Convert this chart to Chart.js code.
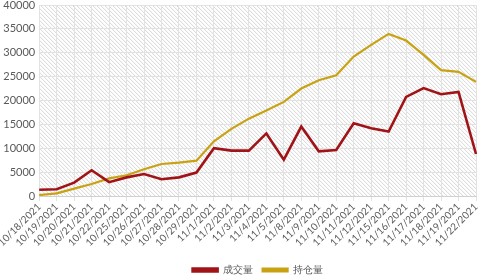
<!DOCTYPE html>
<html>
<head>
<meta charset="utf-8">
<script src="https://cdn.jsdelivr.net/npm/chart.js@4/dist/chart.umd.min.js"></script>
<style>
  html, body { margin: 0; padding: 0; background: #fff; }
  #wrap { width: 498px; height: 280px; position: relative; }
</style>
</head>
<body>
<div id="wrap"><canvas id="chart-main"></canvas></div>
<script>
const dates = [
  '10/18/2021', '10/19/2021', '10/20/2021', '10/21/2021', '10/22/2021', '10/25/2021',
  '10/26/2021', '10/27/2021', '10/28/2021', '10/29/2021', '11/1/2021', '11/2/2021',
  '11/3/2021', '11/4/2021', '11/5/2021', '11/8/2021', '11/9/2021', '11/10/2021',
  '11/11/2021', '11/12/2021', '11/15/2021', '11/16/2021', '11/17/2021', '11/18/2021',
  '11/19/2021', '11/22/2021',
];
const volume = [
  1300, 1400, 2800, 5400, 2900, 3900, 4600, 3500, 3900, 4900, 10000, 9500, 9500,
  13100, 7600, 14550, 9350, 9650, 15250, 14200, 13500, 20750, 22600, 21300, 21800, 8800,
];
const openInterest = [
  200, 550, 1550, 2500, 3700, 4350, 5600, 6700, 7000, 7400, 11450, 14050, 16200,
  17900, 19700, 22500, 24250, 25300, 29200, 31650, 33950, 32550, 29550, 26350, 26000, 23900,
];
const seriesNames = ['成交量', '持仓量'];

const textColor = '#595959';
const gridColor = '#e2e2e2';

// diagonal hatch behind the plot area
const hatchPlugin = {
  id: 'hatch',
  beforeDraw: (chart) => {
    const { ctx, chartArea: a } = chart;
    if (!a) return;
    ctx.save();
    ctx.beginPath();
    ctx.rect(a.left, a.top, a.right - a.left, a.bottom - a.top);
    ctx.clip();
    ctx.strokeStyle = '#d6d6d6';
    ctx.lineWidth = 1;
    const h = a.bottom - a.top;
    for (let x = a.left - h; x < a.right + 4; x += 4) {
      ctx.beginPath();
      ctx.moveTo(x, a.top);
      ctx.lineTo(x + h, a.bottom);
      ctx.stroke();
    }
    ctx.restore();
  },
};

const ctx = document.getElementById('chart-main').getContext('2d');
new Chart(ctx, {
  type: 'line',
  data: {
    labels: dates,
    datasets: [
      {
        label: seriesNames[0],
        data: volume,
        borderColor: '#a01418',
        backgroundColor: '#a01418',
        borderWidth: 2.6,
        pointRadius: 0,
        tension: 0,
      },
      {
        label: seriesNames[1],
        data: openInterest,
        borderColor: '#c9a214',
        backgroundColor: '#c9a214',
        borderWidth: 2.2,
        pointRadius: 0,
        tension: 0,
      },
    ],
  },
  options: {
    responsive: true,
    maintainAspectRatio: false,
    animation: false,
    layout: { padding: { top: 5, right: 22, left: 0, bottom: -5 } },
    plugins: {
      legend: {
        display: true,
        position: 'bottom',
        fullSize: false,
        labels: {
          color: textColor,
          font: { family: 'Lato', size: 10 },
          boxWidth: 25,
          boxHeight: 3,
          padding: 10,
        },
      },
      tooltip: { enabled: false },
    },
    scales: {
      x: {
        offset: false,
        afterFit: (scale) => { scale.height = 59; },
        ticks: {
          color: textColor,
          font: { family: 'Lato', size: 10 },
          maxRotation: 45,
          minRotation: 45,
          autoSkip: false,
          padding: 0,
        },
        grid: { color: gridColor, tickLength: 5, drawTicks: true },
        border: { color: '#d0d0d0' },
      },
      y: {
        min: 0,
        max: 40000,
        afterFit: (scale) => {
          scale.width = 38;
          scale.paddingTop = 0;
          scale.paddingBottom = 0;
        },
        ticks: {
          stepSize: 5000,
          color: textColor,
          font: { family: 'Lato', size: 11 },
          padding: 4,
          callback: (value) => String(value),
        },
        grid: { color: gridColor, drawTicks: false },
        border: { display: false },
      },
    },
  },
  plugins: [hatchPlugin],
});
</script>
</body>
</html>
